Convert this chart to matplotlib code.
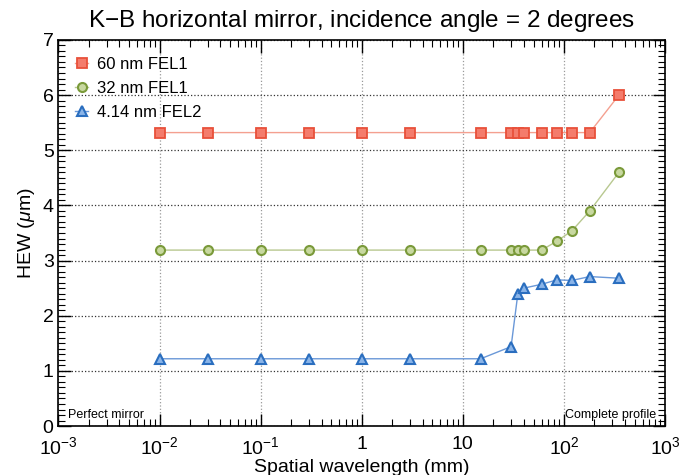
import matplotlib
matplotlib.use("Agg")
import matplotlib.pyplot as plt
from matplotlib.ticker import FixedLocator, FixedFormatter, MultipleLocator, LogLocator, NullFormatter

# spatial wavelength (mm)
wavelength = [0.01, 0.03, 0.1, 0.3, 1, 3, 15, 30, 35, 40, 60, 85, 120, 180, 350]

# HEW (um)
hew_60nm = [5.32, 5.32, 5.32, 5.32, 5.32, 5.32, 5.32, 5.32, 5.32, 5.32, 5.32, 5.32, 5.32, 5.32, 6.0]
hew_32nm = [3.19, 3.19, 3.19, 3.19, 3.19, 3.19, 3.19, 3.19, 3.19, 3.19, 3.19, 3.35, 3.54, 3.9, 4.6]
hew_4nm = [1.22, 1.22, 1.22, 1.22, 1.22, 1.22, 1.22, 1.44, 2.40, 2.50, 2.57, 2.65, 2.64, 2.71, 2.68]

xtick_vals = [1e-3, 1e-2, 1e-1, 1, 10, 1e2, 1e3]
xtick_labels = ['$10^{-3}$', '$10^{-2}$', '$10^{-1}$', '1', '10', '$10^{2}$', '$10^{3}$']

plt.rcParams['font.family'] = ['Liberation Sans', 'DejaVu Sans']
plt.rcParams['mathtext.fontset'] = 'custom'
plt.rcParams['mathtext.rm'] = 'Liberation Sans'
plt.rcParams['mathtext.it'] = 'Liberation Sans:italic'

fig = plt.figure(figsize=(6.8, 4.75), dpi=100)
ax = fig.add_axes([0.086, 0.103, 0.892, 0.813])

ax.plot(wavelength, hew_60nm, color='#f4a090', lw=1, marker='s', ms=6.5,
        mfc='#f47c6c', mec='#e8503a', mew=1.3, label='60 nm FEL1')
ax.plot(wavelength, hew_32nm, color='#b8c890', lw=1, marker='o', ms=6.5,
        mfc='#c8d8a0', mec='#7a9a3a', mew=1.5, label='32 nm FEL1')
ax.plot(wavelength, hew_4nm, color='#6a98d8', lw=1, marker='^', ms=7,
        mfc='#8ab4e8', mec='#2a6ebf', mew=1.5, label='4.14 nm FEL2')

ax.set_xscale('log')
ax.set_xlim(1e-3, 1e3)
ax.set_ylim(0, 7)

ax.xaxis.set_major_locator(FixedLocator(xtick_vals))
ax.xaxis.set_major_formatter(FixedFormatter(xtick_labels))
ax.xaxis.set_minor_locator(LogLocator(base=10, subs=range(2, 10), numticks=20))
ax.xaxis.set_minor_formatter(NullFormatter())
ax.yaxis.set_major_locator(MultipleLocator(1))
ax.yaxis.set_minor_locator(MultipleLocator(0.1))

ax.tick_params(which='both', direction='in', top=True, right=True, labelsize=14, colors='black')
ax.tick_params(which='major', length=9, width=1)
ax.tick_params(which='minor', length=5, width=0.8)
ax.tick_params(axis='x', pad=7)

ax.grid(True, axis='x', which='major', ls=':', color='#999999', lw=0.9)
ax.grid(True, axis='y', which='major', ls=':', color='#333333', lw=0.9)

for s in ax.spines.values():
    s.set_linewidth(1.2)

ax.set_title('K$-$B horizontal mirror, incidence angle = 2 degrees', fontsize=17.5, pad=9)
ax.set_xlabel('Spatial wavelength (mm)', fontsize=14, labelpad=1)
ax.set_ylabel('HEW ($\\mu$m)', fontsize=14)

ax.text(0.00125, 0.1, 'Perfect mirror', fontsize=9, ha='left', va='bottom')
ax.text(820, 0.1, 'Complete profile', fontsize=9, ha='right', va='bottom')

ax.legend(loc='upper left', frameon=False, fontsize=12, handlelength=0.8,
          handletextpad=0.5, borderaxespad=0.6, labelspacing=0.55)

fig.savefig('out.png', dpi=100)
